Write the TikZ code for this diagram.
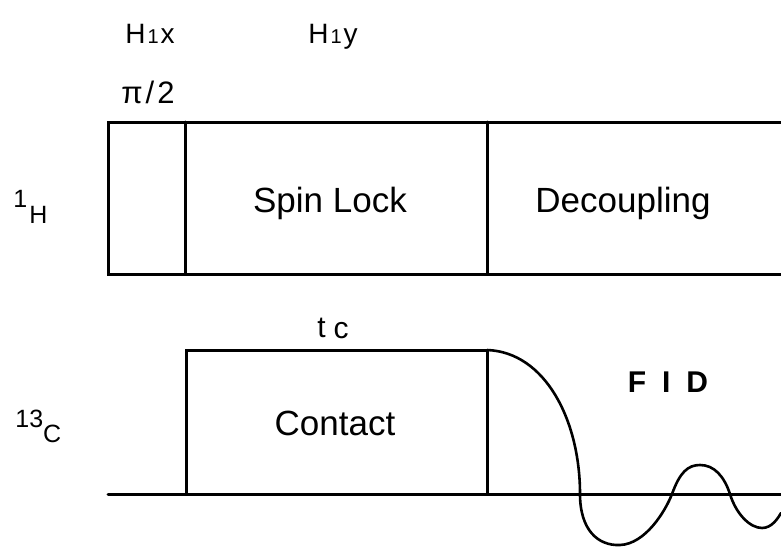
\documentclass[tikz,border=0pt]{standalone}
\usepackage{fontspec}
\setmainfont{Liberation Sans}
\usetikzlibrary{positioning}
\tikzset{
  pline/.style={line width=1.5pt, black, line cap=round},
  fidline/.style={line width=1.3pt, black, line cap=round},
  blabel/.style={font=\fontsize{17.5}{20}\selectfont, anchor=base, inner sep=0pt},
  hlabel/.style={font=\fontsize{14}{17}\selectfont, anchor=base, inner sep=0pt},
  nlabel/.style={font=\fontsize{12.5}{15}\selectfont, anchor=base west, inner sep=0pt},
  fidlabel/.style={font=\fontsize{15}{18}\selectfont\bfseries, anchor=base, inner sep=0pt},
}
\newcommand{\smallone}{{\fontsize{10}{12}\selectfont\hspace{1pt}1\hspace{1pt}}}

\begin{document}
\begin{tikzpicture}[x=0.5pt, y=-0.5pt]
  \useasboundingbox (0,0) rectangle (781,546);
  \clip (0,0) rectangle (781,546);
  % 1H channel
  \coordinate (htl) at (108,122);
  \coordinate (hbl) at (108,274);
  \coordinate (htr) at (781,122);
  \coordinate (hbr) at (781,274);
  \coordinate (pt) at (185,122);
  \coordinate (pb) at (185,274);
  \coordinate (dt) at (487,122);
  \coordinate (db) at (487,274);
  \draw[pline] (htr) -- (htl) -- (hbl) -- (hbr);
  \draw[pline] (pt) -- (pb);
  \draw[pline] (dt) -- (db);
  % 13C channel
  \coordinate (cl) at (108,494);
  \coordinate (cr) at (781,494);
  \coordinate (ca) at (186,494);
  \coordinate (cb) at (186,350);
  \coordinate (cc) at (487,350);
  \coordinate (cd) at (487,494);
  \draw[pline] (cl) -- (cr);
  \draw[pline] (ca) -- (cb) -- (cc) -- (cd);
  % FID
  \draw[fidline] (cc) .. controls (545,352) and (580,420) .. (580,494)
    .. controls (580,530) and (598,546) .. (620,545)
    .. controls (645,544) and (665,512) .. (672,494)
    .. controls (680,472) and (688,465) .. (700,465)
    .. controls (714,465) and (724,476) .. (730,494)
    .. controls (736,514) and (750,528) .. (762,528)
    .. controls (772,528) and (778,518) .. (781,513);
  % labels
  \node[hlabel] (hx) at (150,43) {H\smallone x};
  \node[hlabel] (hy) at (333,43) {H\smallone y};
  \node[hlabel, font=\fontsize{15.5}{18}\selectfont] (pi) at (148,103) {π\hspace{1.5pt}/\hspace{1.5pt}2};
  \node[blabel] (lock) at (330,212) {Spin Lock};
  \node[blabel] (dec) at (623,212) {Decoupling};
  \node[blabel] (cont) at (335,435) {Contact};
  \node[blabel, font=\fontsize{15}{18}\selectfont] (tc) at (333,337) {t\hspace{4pt}\raisebox{-0.5pt}{c}};
  \node[fidlabel] (fid) at (668,392) {F\hspace{8pt}I\hspace{8pt}D};
  \node[nlabel] (h1) at (13,223) {\raisebox{8pt}{1}\hspace{1pt}H};
  \node[nlabel] (c13) at (15,442) {\raisebox{7.5pt}{13}C};
\end{tikzpicture}
\end{document}
